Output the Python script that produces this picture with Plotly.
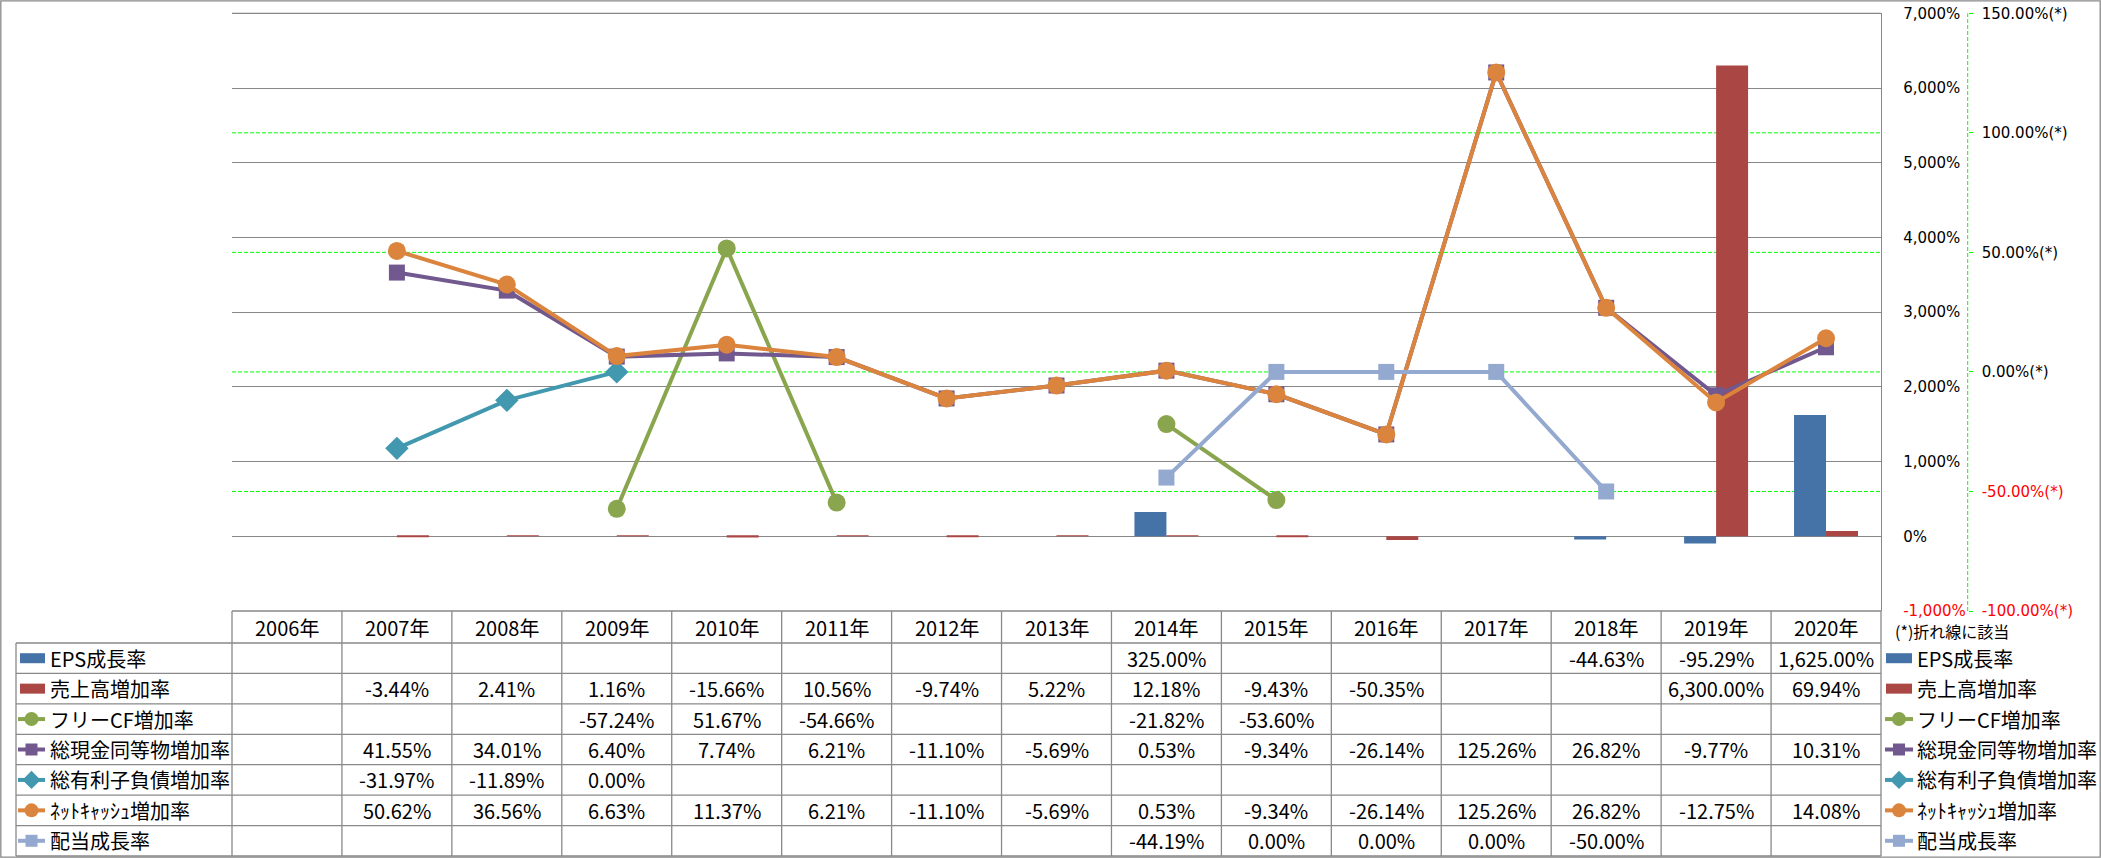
import plotly.graph_objects as go

# ---------------- data ----------------
years = ["2006年", "2007年", "2008年", "2009年", "2010年", "2011年", "2012年", "2013年",
         "2014年", "2015年", "2016年", "2017年", "2018年", "2019年", "2020年"]
eps_growth = [None, None, None, None, None, None, None, None, 325.00, None, None, None, -44.63, -95.29, 1625.00]
sales_growth = [None, -3.44, 2.41, 1.16, -15.66, 10.56, -9.74, 5.22, 12.18, -9.43, -50.35, None, None, 6300.00, 69.94]
free_cf_growth = [None, None, None, -57.24, 51.67, -54.66, None, None, -21.82, -53.60, None, None, None, None, None]
cash_growth = [None, 41.55, 34.01, 6.40, 7.74, 6.21, -11.10, -5.69, 0.53, -9.34, -26.14, 125.26, 26.82, -9.77, 10.31]
debt_growth = [None, -31.97, -11.89, 0.00, None, None, None, None, None, None, None, None, None, None, None]
net_cash_growth = [None, 50.62, 36.56, 6.63, 11.37, 6.21, -11.10, -5.69, 0.53, -9.34, -26.14, 125.26, 26.82, -12.75, 14.08]
dividend_growth = [None, None, None, None, None, None, None, None, -44.19, 0.00, 0.00, 0.00, -50.00, None, None]

series_names = ["EPS成長率", "売上高増加率", "フリーCF増加率", "総現金同等物増加率",
                "総有利子負債増加率", "ﾈｯﾄｷｬｯｼｭ増加率", "配当成長率"]
series_values = [eps_growth, sales_growth, free_cf_growth, cash_growth,
                 debt_growth, net_cash_growth, dividend_growth]

y1_ticks = [-1000, 0, 1000, 2000, 3000, 4000, 5000, 6000, 7000]
y2_ticks = [-100, -50, 0, 50, 100, 150]
note_text = "(*)折れ線に該当"

# ---------------- styling ----------------
series_kind = ["bar", "bar", "line", "line", "line", "line", "line"]
series_colors = ["#4572A7", "#AA4643", "#89A54E", "#71588F", "#4198AF", "#DB843D", "#93A9CF"]
series_symbols = [None, None, "circle", "square", "diamond", "circle", "square"]
series_msize = [None, None, 18, 16, 18, 18, 16]

W, H = 2101, 858
PL, PR, PT, PB = 232, 1881, 13.3, 611        # plot area (px)
HDR_B = 643                                   # header bottom
TBL_B = 856                                   # table bottom
TBL_L = 16                                    # table left
ROW_H = (TBL_B - HDR_B) / len(series_names)
GRAY = "#878787"
GREEN = "#00FF00"
RED = "#FF0000"

def px(x):
    return x / W

def py(y):
    return 1 - y / H

num_font = dict(family="Liberation Sans Narrow, Arial Narrow, Noto Sans CJK JP", size=20, color="black")
jp_font = dict(family="Noto Sans CJK JP", size=20, color="black")
axis_font = dict(family="DejaVu Sans", size=15, color="black")

def pct1(v):
    s = f"{v:,.0f}%"
    return f"<span style='color:{RED}'>{s}</span>" if v < 0 else s

def pct2(v):
    s = f"{v:,.2f}%(*)"
    return f"<span style='color:{RED}'>{s}</span>" if v < 0 else s

fig = go.Figure()

# bars (primary axis)
for name, vals, kind, col in zip(series_names, series_values, series_kind, series_colors):
    if kind == "bar":
        fig.add_trace(go.Bar(x=years, y=vals, name=name, marker=dict(color=col, line=dict(width=0)),
                             yaxis="y", xaxis="x", showlegend=False))

# lines (secondary axis)
for name, vals, kind, col, sym, ms in zip(series_names, series_values, series_kind,
                                          series_colors, series_symbols, series_msize):
    if kind == "line":
        fig.add_trace(go.Scatter(x=years, y=vals, name=name, mode="lines+markers",
                                 line=dict(color=col, width=4),
                                 marker=dict(symbol=sym, size=ms, color=col, line=dict(width=0)),
                                 connectgaps=False, yaxis="y2", xaxis="x", showlegend=False,
                                 cliponaxis=False))

# legend symbols in table (pixel overlay axis)
def add_symbol(x0, x1, yc, kind, col, sym, ms):
    if kind == "bar":
        fig.add_trace(go.Scatter(x=[x0, x1], y=[yc, yc], mode="lines", line=dict(color=col, width=10),
                                 xaxis="x3", yaxis="y3", showlegend=False, hoverinfo="skip"))
    else:
        fig.add_trace(go.Scatter(x=[x0, x1], y=[yc, yc], mode="lines", line=dict(color=col, width=4),
                                 xaxis="x3", yaxis="y3", showlegend=False, hoverinfo="skip"))
        fig.add_trace(go.Scatter(x=[(x0 + x1) / 2], y=[yc], mode="markers",
                                 marker=dict(symbol=sym, size=ms - 4, color=col),
                                 xaxis="x3", yaxis="y3", showlegend=False, hoverinfo="skip"))

annotations = []
shapes = []

for k, (name, vals, kind, col, sym, ms) in enumerate(zip(series_names, series_values, series_kind,
                                                         series_colors, series_symbols, series_msize)):
    yc = HDR_B + ROW_H * (k + 0.5)
    if kind == "bar":
        add_symbol(20, 45, yc, kind, col, sym, ms)
        add_symbol(1886, 1912, yc, kind, col, sym, ms)
    else:
        add_symbol(18, 45, yc, kind, col, sym, ms)
        add_symbol(1885, 1913, yc, kind, col, sym, ms)
    annotations.append(dict(x=px(48), y=py(yc), xref="paper", yref="paper", text=name, showarrow=False,
                            xanchor="left", yanchor="middle", font=jp_font))
    annotations.append(dict(x=px(1915), y=py(yc), xref="paper", yref="paper", text=name, showarrow=False,
                            xanchor="left", yanchor="middle", font=jp_font))
    for yr, v in zip(years, vals):
        if v is not None:
            annotations.append(dict(x=yr, y=py(yc), xref="x", yref="paper", text=f"{v:,.2f}%",
                                    showarrow=False, xanchor="center", yanchor="middle", font=num_font))

# header
for yr in years:
    annotations.append(dict(x=yr, y=py((PB + HDR_B) / 2), xref="x", yref="paper", text=yr,
                            showarrow=False, xanchor="center", yanchor="middle", font=num_font))

annotations.append(dict(x=px(1893), y=py(631), xref="paper", yref="paper", text=note_text, showarrow=False,
                        xanchor="left", yanchor="middle",
                        font=dict(family="Noto Sans CJK JP", size=16, color="black")))

# table grid
n = len(years)
line_style = dict(color="#898989", width=1.3)
# plot-area top gridline and table top line
for yy in (PT, PB):
    shapes.append(dict(type="line", xref="paper", yref="paper", x0=px(PL), x1=px(PR), y0=py(yy), y1=py(yy),
                       line=dict(color=GRAY, width=1.3), layer="below"))
for k in range(len(series_names) + 1):
    yy = HDR_B + ROW_H * k
    shapes.append(dict(type="line", xref="paper", yref="paper", x0=px(TBL_L), x1=px(PR), y0=py(yy), y1=py(yy),
                       line=line_style))
for i in range(n + 1):
    xx = PL + (PR - PL) * i / n
    shapes.append(dict(type="line", xref="paper", yref="paper", x0=px(xx), x1=px(xx), y0=py(PB), y1=py(TBL_B),
                       line=line_style))
shapes.append(dict(type="line", xref="paper", yref="paper", x0=px(TBL_L), x1=px(TBL_L), y0=py(HDR_B),
                   y1=py(TBL_B), line=line_style))

# green dashed gridlines for secondary axis (below traces)
for v in y2_ticks[1:-1]:
    shapes.append(dict(type="line", xref="paper", yref="y2", x0=px(PL), x1=px(PR), y0=v, y1=v, layer="below",
                       line=dict(color=GREEN, width=1, dash="4px,2px")))
# secondary axis line (dashed)
shapes.append(dict(type="line", xref="paper", yref="paper", x0=px(1967.7), x1=px(1967.7), y0=py(PB), y1=py(PT),
                   line=dict(color=GREEN, width=1, dash="4px,2px")))
# outer border
shapes.append(dict(type="rect", xref="paper", yref="paper", x0=px(0.8), x1=px(W - 0.8), y0=py(0.8),
                   y1=py(H - 0.8), line=dict(color="#898989", width=1.3)))

fig.update_layout(
    width=W, height=H,
    margin=dict(l=0, r=0, t=0, b=0, pad=0, autoexpand=False),
    paper_bgcolor="white", plot_bgcolor="rgba(0,0,0,0)",
    barmode="group", bargap=0.418, bargroupgap=0,
    showlegend=False,
    xaxis=dict(domain=[px(PL), px(PR)], type="category", range=[-0.5, n - 0.5], visible=False,
               anchor="y", automargin=False),
    yaxis=dict(domain=[py(PB), py(PT)], range=[-1000, 7000], side="right", anchor="x",
               tickvals=y1_ticks, ticktext=[pct1(v) for v in y1_ticks],
               showgrid=True, gridcolor=GRAY, gridwidth=1.3, zeroline=False,
               showline=True, linecolor=GRAY, linewidth=1.3, ticks="", automargin=False,
               ticklabelstandoff=18, tickfont=axis_font),
    yaxis2=dict(overlaying="y", side="right", anchor="free", position=px(1967.7), range=[-100, 150],
                tickvals=y2_ticks, ticktext=[pct2(v) for v in y2_ticks],
                showgrid=False, zeroline=False, showline=False, automargin=False,
                ticks="outside", ticklen=4, tickcolor=GREEN, tickwidth=1,
                ticklabelstandoff=6, tickfont=axis_font),
    xaxis3=dict(domain=[0, 1], range=[0, W], visible=False, anchor="y3", automargin=False),
    yaxis3=dict(domain=[0, 1], range=[H, 0], visible=False, anchor="x3", automargin=False),
    annotations=annotations,
    shapes=shapes,
)

fig.write_html("out.html", config={"displayModeBar": False},
               post_script="document.body.style.margin='0';")
